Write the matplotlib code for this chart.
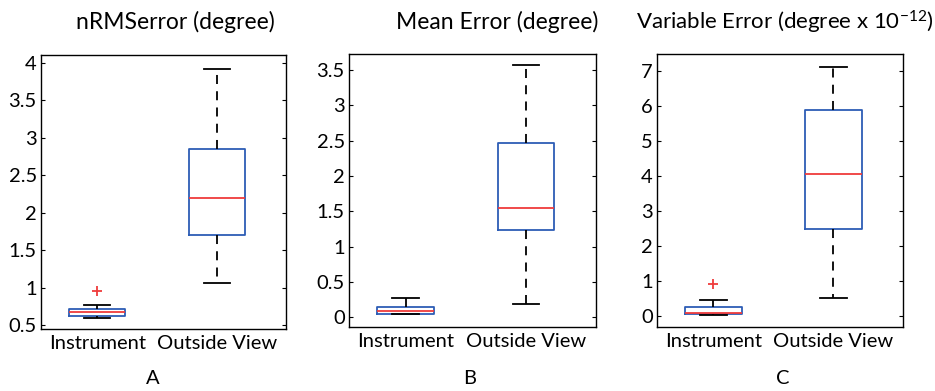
import matplotlib
matplotlib.use("Agg")
import matplotlib.pyplot as plt

plt.rcParams['font.family'] = ['Lato', 'DejaVu Sans']
plt.rcParams['mathtext.fontset'] = 'custom'
plt.rcParams['mathtext.rm'] = 'Lato'
plt.rcParams['mathtext.default'] = 'regular'

groups = ["Instrument", "Outside View"]
titles = ["nRMSerror (degree)", "Mean Error (degree)", r"Variable Error (degree x 10$^{-12}$)"]
panel_letters = ["A", "B", "C"]

# stats: [low whisker, q1, median, q3, high whisker]
nrms_instrument = [0.60, 0.62, 0.67, 0.72, 0.77]
nrms_instrument_out = [0.95]
nrms_outside = [1.06, 1.70, 2.19, 2.85, 3.91]
nrms_outside_out = []

mean_instrument = [0.04, 0.05, 0.08, 0.15, 0.27]
mean_instrument_out = []
mean_outside = [0.18, 1.24, 1.55, 2.47, 3.57]
mean_outside_out = []

var_instrument = [0.04, 0.07, 0.10, 0.26, 0.45]
var_instrument_out = [0.92]
var_outside = [0.53, 2.49, 4.06, 5.87, 7.12]
var_outside_out = []

yticks_a = [0.5, 1, 1.5, 2, 2.5, 3, 3.5, 4]
yticks_b = [0, 0.5, 1, 1.5, 2, 2.5, 3, 3.5]
yticks_c = [0, 1, 2, 3, 4, 5, 6, 7]
ylims = [(0.45, 4.10), (-0.14, 3.73), (-0.31, 7.48)]

panels = [
    [(nrms_instrument, nrms_instrument_out), (nrms_outside, nrms_outside_out)],
    [(mean_instrument, mean_instrument_out), (mean_outside, mean_outside_out)],
    [(var_instrument, var_instrument_out), (var_outside, var_outside_out)],
]
yticks_all = [yticks_a, yticks_b, yticks_c]

W, H = 935, 391
fig = plt.figure(figsize=(W / 100, H / 100), dpi=100)

axes_px = [(41, 55, 286, 329), (349, 54, 596, 327), (657, 54, 903, 327)]
title_x = [175, 497, 796]
letter_x = [153, 470, 783]

blue = '#2d5db5'
red = '#ef3b3b'

for i, (x0, y0, x1, y1) in enumerate(axes_px):
    ax = fig.add_axes([x0 / W, 1 - y1 / H, (x1 - x0) / W, (y1 - y0) / H])
    stats = []
    for (s, outl), lab in zip(panels[i], groups):
        stats.append(dict(whislo=s[0], q1=s[1], med=s[2], q3=s[3], whishi=s[4],
                          fliers=outl, label=lab))
    ax.bxp(stats, positions=[1, 2], widths=0.47, capwidths=0.22,
           boxprops=dict(color=blue, linewidth=1.3),
           medianprops=dict(color=red, linewidth=1.3),
           whiskerprops=dict(color='black', linewidth=1.3, linestyle=(0, (5, 4))),
           capprops=dict(color='black', linewidth=1.3),
           flierprops=dict(marker='+', markeredgecolor=red, markersize=7, markeredgewidth=1.3))
    ax.set_xlim(0.53, 2.58)
    ax.set_ylim(*ylims[i])
    ax.set_yticks(yticks_all[i])
    ax.set_yticklabels([('%g' % t) for t in yticks_all[i]], fontsize=14.5)
    ax.tick_params(axis='y', direction='in', length=3, right=True, pad=3, width=0.8)
    ax.tick_params(axis='x', length=0, labelsize=14.5, pad=4)
    for sp in ax.spines.values():
        sp.set_linewidth(1.0)
    if i < 2:
        fig.text(title_x[i] / W, 1 - 22 / H, titles[i], ha='center', va='center', fontsize=16.5)
    else:
        fig.text(934 / W, 1 - 22 / H, titles[i], ha='right', va='center', fontsize=16)
    fig.text(letter_x[i] / W, 1 - 378 / H, panel_letters[i], ha='center', va='center', fontsize=14.5)

fig.savefig("out.png", dpi=100)
